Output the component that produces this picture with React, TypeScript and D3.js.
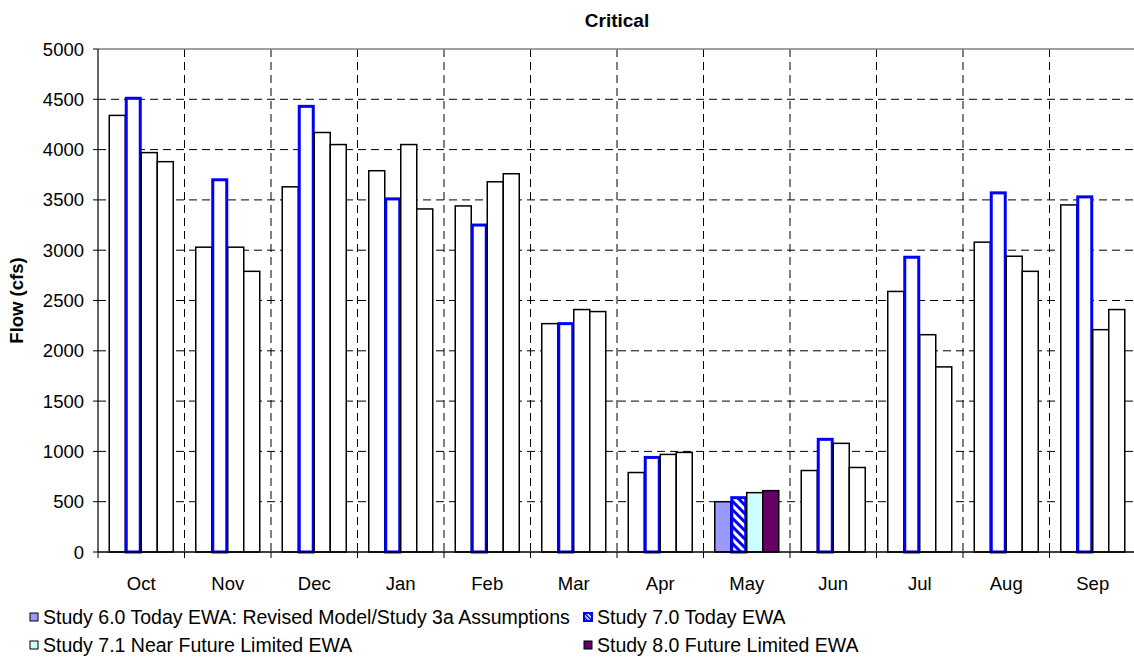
import React from "react";
import * as d3 from "d3";

const months = ["Oct", "Nov", "Dec", "Jan", "Feb", "Mar", "Apr", "May", "Jun", "Jul", "Aug", "Sep"];
const seriesNames = [
  "Study 6.0 Today EWA: Revised Model/Study 3a Assumptions",
  "Study 7.0 Today EWA",
  "Study 7.1 Near Future Limited EWA",
  "Study 8.0 Future Limited EWA",
];
const study60 = [4340, 3030, 3630, 3790, 3440, 2270, 790, 500, 810, 2590, 3080, 3450];
const study70 = [4510, 3700, 4430, 3510, 3250, 2270, 940, 540, 1120, 2930, 3570, 3530];
const study71 = [3970, 3030, 4170, 4050, 3680, 2410, 970, 590, 1080, 2160, 2940, 2210];
const study80 = [3880, 2790, 4050, 3410, 3760, 2390, 990, 610, 840, 1840, 2790, 2410];
const yTicks = [0, 500, 1000, 1500, 2000, 2500, 3000, 3500, 4000, 4500, 5000];
const filledMonth = "May";

const W = 1134;
const H = 662;
const left = 98;
const right = 1136;
const top = 49;
const bottom = 552;

export default function App() {
  const x = d3.scaleBand<string>().domain(months).range([left, right]);
  const y = d3.scaleLinear().domain([0, 5000]).range([bottom, top]);
  const bw = x.bandwidth();
  const sub = d3.scaleBand<number>().domain([0, 1, 2, 3]).range([(bw - 64) / 2, (bw + 64) / 2]);
  const all = [study60, study70, study71, study80];
  const fills = ["#9999FF", "url(#hatch)", "#CCFFFF", "#660066"];
  const strokes = ["#000", "#0000FF", "#000", "#000"];
  const font = "'Liberation Sans', Arial, Helvetica, sans-serif";

  return (
    <svg width={W} height={H} style={{ position: "absolute", left: 0, top: 0, background: "#fff", fontFamily: font }}>
      <defs>
        <pattern id="hatch" patternUnits="userSpaceOnUse" width="6" height="6" patternTransform="rotate(-45)">
          <rect width="6" height="6" fill="#fff" />
          <rect width="3" height="6" fill="#0000FF" />
        </pattern>
        <pattern id="hatchS" patternUnits="userSpaceOnUse" width="3" height="3" patternTransform="rotate(-45)">
          <rect width="3" height="3" fill="#fff" />
          <rect width="1.5" height="3" fill="#0000FF" />
        </pattern>
      </defs>
      <rect x={0} y={0} width={W} height={H} fill="#fff" />
      <text x={617} y={27} textAnchor="middle" fontWeight="bold" fontSize={19}>Critical</text>
      {yTicks.filter((t) => t > 0 && t < 5000).map((t) => (
        <line key={"h" + t} x1={left} x2={right} y1={y(t)} y2={y(t)} stroke="#000" strokeDasharray="8,5" strokeWidth={1} />
      ))}
      {months.slice(1).map((m) => (
        <line key={"v" + m} x1={x(m)!} x2={x(m)!} y1={top} y2={bottom} stroke="#000" strokeDasharray="8,5" strokeWidth={1} />
      ))}
      <line x1={left} x2={right} y1={top} y2={top} stroke="#808080" strokeWidth={1.5} />
      {months.map((m, i) => (
        <g key={m}>
          {all.map((s, k) => {
            const bx = x(m)! + sub(k)!;
            const by = y(s[i]);
            const filled = m === filledMonth;
            const sw = k === 1 ? 3 : 1.5;
            return (
              <rect
                key={k}
                x={bx + (k === 1 ? 1 : 0)}
                y={by}
                width={sub.bandwidth() - (k === 1 ? 2 : 0)}
                height={bottom - by}
                fill={filled ? fills[k] : "#fff"}
                stroke={strokes[k]}
                strokeWidth={sw}
              />
            );
          })}
        </g>
      ))}
      <line x1={left} x2={left} y1={top} y2={bottom} stroke="#000" strokeWidth={1.2} />
      <line x1={left} x2={right} y1={bottom} y2={bottom} stroke="#000" strokeWidth={1.5} />
      {yTicks.map((t) => (
        <g key={"yt" + t}>
          <line x1={left - 5} x2={left} y1={y(t)} y2={y(t)} stroke="#000" />
          <text x={84} y={y(t) + 6.5} textAnchor="end" fontSize={18.5}>{t}</text>
        </g>
      ))}
      {months.map((m) => (
        <line key={"xt" + m} x1={x(m)!} x2={x(m)!} y1={bottom} y2={bottom + 6} stroke="#000" />
      ))}
      {months.map((m) => (
        <text key={"xl" + m} x={x(m)! + bw / 2} y={590} textAnchor="middle" fontSize={18.5}>{m}</text>
      ))}
      <text transform={`translate(23,${(top + bottom) / 2}) rotate(-90)`} textAnchor="middle" fontWeight="bold" fontSize={18.5}>Flow (cfs)</text>
      {seriesNames.map((n, k) => {
        const col = k % 2;
        const row = Math.floor(k / 2);
        const lx = col === 0 ? 30 : 584;
        const ly = row === 0 ? 617 : 645;
        return (
          <g key={n}>
            <rect x={lx} y={ly - 4} width={8} height={8} fill={k === 1 ? "url(#hatchS)" : fills[k]} stroke={strokes[k]} strokeWidth={k === 1 ? 2 : 1} />
            <text x={lx + 13} y={ly + 7} fontSize={19.5}>{n}</text>
          </g>
        );
      })}
    </svg>
  );
}
